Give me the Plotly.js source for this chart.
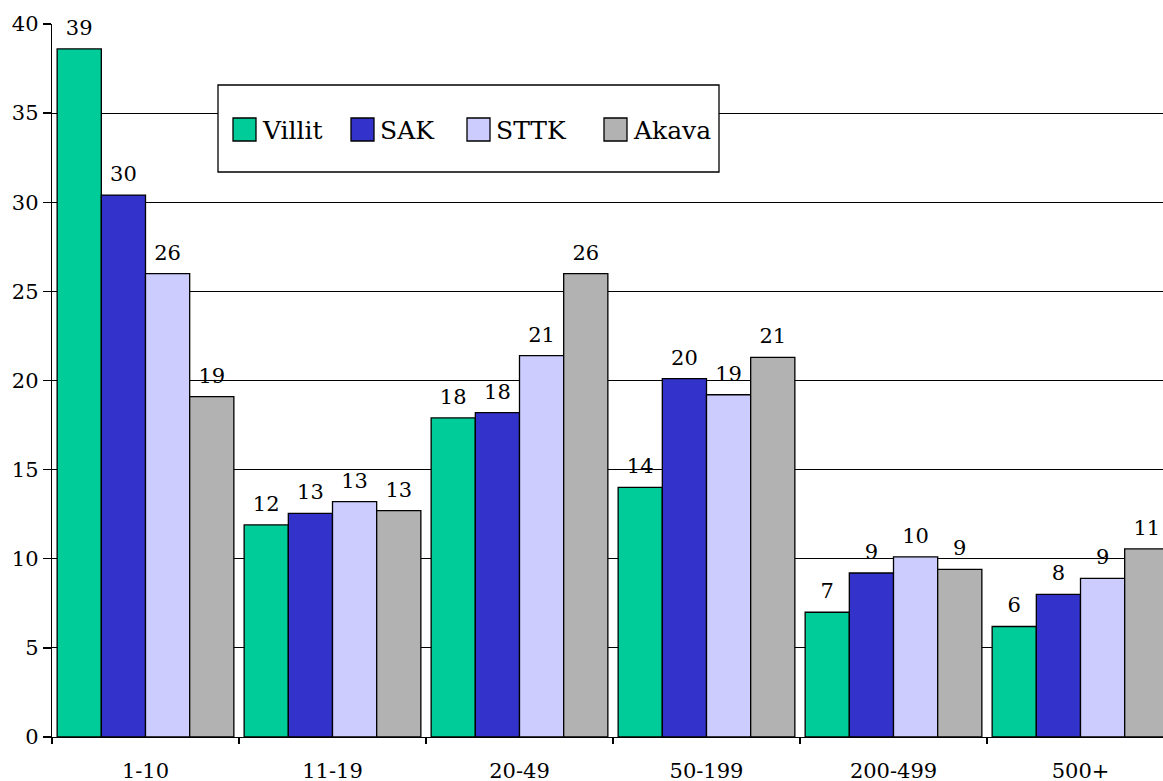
<!DOCTYPE html>
<html>
<head>
<meta charset="utf-8">
<script src="https://cdn.plot.ly/plotly-3.0.1.min.js"></script>
<style>html,body{margin:0;padding:0;background:#fff;}#chart{width:1163px;height:781px;}</style>
</head>
<body>
<div id="chart"></div>
<script>
const categories = ['1-10', '11-19', '20-49', '50-199', '200-499', '500+'];
const seriesNames = ['Villit', 'SAK', 'STTK', 'Akava'];
const villit = [38.6, 11.9, 17.9, 14.0, 7.0, 6.2];
const sak = [30.4, 12.55, 18.2, 20.1, 9.2, 8.0];
const sttk = [26.0, 13.2, 21.4, 19.2, 10.1, 8.9];
const akava = [19.1, 12.7, 26.0, 21.3, 9.4, 10.55];
const colors = ['#00CC99', '#3333CC', '#CCCCFF', '#B2B2B2'];
const yTicks = [0, 5, 10, 15, 20, 25, 30, 35, 40];

const FONT = 'DejaVu Serif';
const seriesValues = [villit, sak, sttk, akava];

const traces = seriesValues.map((vals, i) => ({
  type: 'bar',
  name: seriesNames[i],
  x: categories,
  y: vals,
  marker: {color: colors[i], line: {color: '#000', width: 1.3}},
  texttemplate: '%{y:.0f}',
  textposition: 'outside',
  textfont: {family: FONT, size: 21, color: '#000'},
  cliponaxis: false,
  hoverinfo: 'none'
}));

const W = 1163, H = 781, L = 52, R = 0, T = 24, B = 44;
const pw = W - L - R, ph = H - T - B;
const px2x = p => (p - L) / pw;
const px2y = p => (H - B - p) / ph;

const shapes = [{
  type: 'rect', xref: 'paper', yref: 'paper', layer: 'above',
  x0: px2x(218), x1: px2x(719), y0: px2y(172), y1: px2y(85),
  fillcolor: '#fff', line: {color: '#000', width: 1.3}
}];
const annotations = [];
const swatchLeft = [233, 351, 467, 604];
seriesNames.forEach((n, i) => {
  shapes.push({
    type: 'rect', xref: 'paper', yref: 'paper', layer: 'above',
    x0: px2x(swatchLeft[i]), x1: px2x(swatchLeft[i] + 23),
    y0: px2y(141), y1: px2y(118),
    fillcolor: colors[i], line: {color: '#000', width: 1.3}
  });
  annotations.push({
    xref: 'paper', yref: 'paper', x: px2x(swatchLeft[i] + 27), y: px2y(130),
    xanchor: 'left', yanchor: 'middle', showarrow: false, text: n,
    font: {family: FONT, size: 25, color: '#000'}
  });
});

const layout = {
  width: W, height: H,
  margin: {l: L, r: R, t: T, b: B, pad: 0},
  paper_bgcolor: '#fff', plot_bgcolor: '#fff',
  showlegend: false,
  barmode: 'group', bargap: 0.055, bargroupgap: 0,
  font: {family: FONT, size: 21, color: '#000'},
  xaxis: {
    type: 'category',
    range: [-0.5, -0.5 + pw / 187],
    showline: true, linecolor: '#000', linewidth: 1.3,
    ticks: 'outside', tickson: 'boundaries', ticklen: 6, tickcolor: '#000', tickwidth: 1.3,
    ticklabelstandoff: 14,
    showgrid: false, zeroline: false,
    tickfont: {family: FONT, size: 21, color: '#000'}
  },
  yaxis: {
    range: [0, 40], tickvals: yTicks,
    showline: true, linecolor: '#000', linewidth: 1.3,
    ticks: 'outside', ticklen: 8, tickcolor: '#000', tickwidth: 1.3,
    showgrid: true, gridcolor: '#000', gridwidth: 1.2,
    zeroline: false,
    tickfont: {family: FONT, size: 21, color: '#000'}
  },
  shapes: shapes,
  annotations: annotations
};

Plotly.newPlot('chart', traces, layout, {staticPlot: true}).then(() => {
  document.querySelectorAll('#chart .bartext').forEach(t => {
    const tr = t.getAttribute('transform') || '';
    t.setAttribute('transform', 'translate(0,-6) ' + tr);
  });
});
</script>
</body>
</html>
